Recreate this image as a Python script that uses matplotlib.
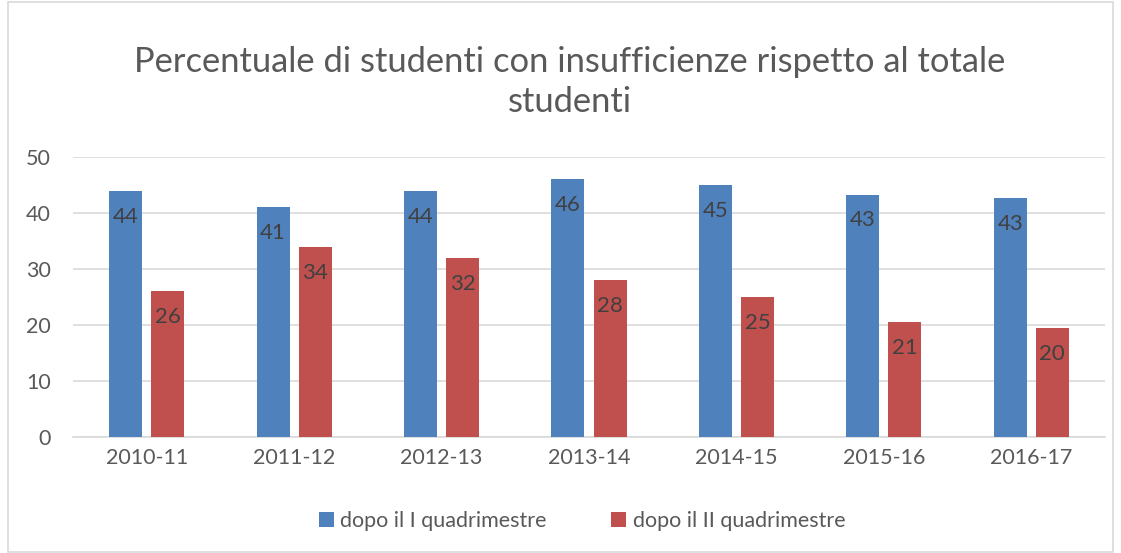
import numpy as np
import matplotlib
matplotlib.use('Agg')
import matplotlib.pyplot as plt
from matplotlib.patches import Rectangle

# dati
anni = ['2010-11', '2011-12', '2012-13', '2013-14', '2014-15', '2015-16', '2016-17']
primo_quad = [44, 41, 44, 46, 45, 43.3, 42.6]
secondo_quad = [26, 34, 32, 28, 25, 20.6, 19.5]
serie_nomi = ['dopo il I quadrimestre', 'dopo il II quadrimestre']
titolo = 'Percentuale di studenti con insufficienze rispetto al totale\nstudenti'

plt.rcParams['font.family'] = ['Lato', 'DejaVu Sans']
grigio = '#595959'
blu = '#4f81bd'
rosso = '#c0504d'

fig = plt.figure(figsize=(11.21, 5.53), dpi=100)
ax = fig.add_axes([73 / 1121, 1 - 437 / 553, (1105 - 73) / 1121, (437 - 157) / 553])

x = np.arange(len(anni))
w = 0.224
b1 = ax.bar(x - 0.143, primo_quad, w, color=blu, label=serie_nomi[0], zorder=3)
b2 = ax.bar(x + 0.143, secondo_quad, w, color=rosso, label=serie_nomi[1], zorder=3)

for bars, vals in [(b1, primo_quad), (b2, secondo_quad)]:
    for r, v in zip(bars, vals):
        ax.text(r.get_x() + r.get_width() / 2, v - 2.85, '%d' % int(v + 0.5),
                ha='center', va='top', fontsize=16, color='#404040', zorder=4)

ax.set_xlim(-0.5, len(anni) - 0.5)
ax.set_ylim(0, 50)
ax.set_yticks(range(0, 51, 10))
ax.set_xticks(x)
ax.set_xticklabels(anni)
ax.yaxis.grid(True, color='#d9d9d9', linewidth=1.2, zorder=0)
for s in ['top', 'right', 'left']:
    ax.spines[s].set_visible(False)
ax.spines['bottom'].set_color('#d9d9d9')
ax.spines['bottom'].set_linewidth(1.2)
ax.tick_params(axis='both', length=0, labelsize=15.5, colors=grigio)
ax.tick_params(axis='y', pad=16)
ax.tick_params(axis='x', pad=8)

fig.text(570 / 1121, 1 - 82 / 553, titolo, ha='center', va='center',
         fontsize=24.8, color=grigio, linespacing=1.3)

fig.legend(loc='center', bbox_to_anchor=(582 / 1121, 1 - 521 / 553), ncol=2,
           frameon=False, fontsize=15.5, labelcolor=grigio, handlelength=0.7,
           handleheight=0.7, handletextpad=0.3, columnspacing=3.0)

# cornice del grafico
fig.patches.append(Rectangle((8 / 1121, 0.002), 1 - 16 / 1121, 0.995,
                             transform=fig.transFigure, fill=False,
                             edgecolor='#d9d9d9', linewidth=1.2))

fig.savefig('out.png', dpi=100)
